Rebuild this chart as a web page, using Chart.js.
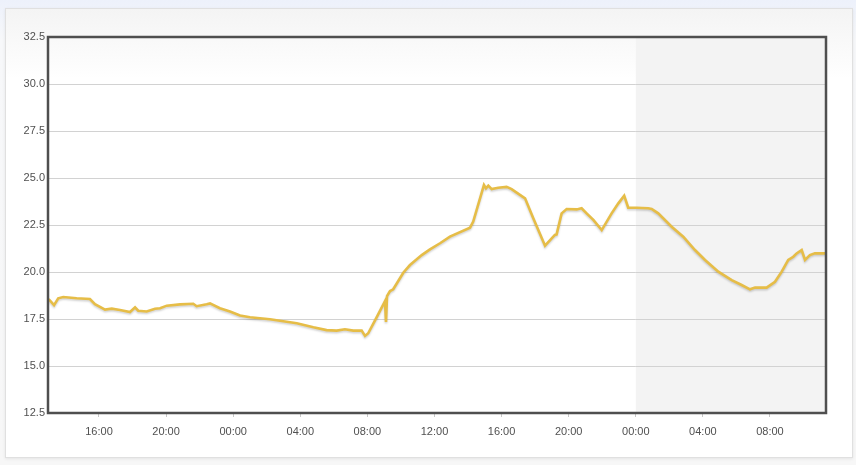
<!DOCTYPE html>
<html>
<head>
<meta charset="utf-8">
<script src="https://cdn.jsdelivr.net/npm/chart.js@4/dist/chart.umd.min.js"></script>
<style>
  html, body { margin: 0; padding: 0; }
  body { width: 856px; height: 465px; background: linear-gradient(#edf1fb, #f7f8fa 40px, #f7f7f7); position: relative; overflow: hidden; }
  #card { position: absolute; left: 5px; top: 8px; width: 846px; height: 448px; border: 1px solid #e0e0e0;
          background: linear-gradient(#f4f4f4, #ffffff 70px); box-shadow: 0 1px 3px rgba(0,0,0,0.08); }
  #wrap { position: absolute; left: 0; top: 0; width: 856px; height: 465px; }
</style>
</head>
<body>
<div id="card"></div>
<div id="wrap"><canvas id="myChart" width="856" height="465"></canvas></div>
<script>
// hours counted from 00:00 of the first day
const hours = [13.00, 13.32, 13.57, 13.87, 14.67, 15.46, 15.76, 16.36, 16.76, 17.25, 17.85, 18.15, 18.34, 18.84,
  19.34, 19.64, 20.04, 20.83, 21.62, 21.82, 22.42, 22.62, 23.21, 23.81, 24.41, 25.00, 26.19, 27.79, 28.78,
  29.57, 30.17, 30.66, 31.16, 31.66, 31.86, 32.05, 32.55, 33.05, 33.11, 33.17, 33.35, 33.54, 34.14, 34.54,
  35.24, 35.73, 36.33, 36.92, 38.12, 38.31, 38.95, 39.07, 39.21, 39.41, 39.80, 40.30, 40.60, 41.40, 41.89,
  42.59, 43.18, 43.28, 43.58, 43.88, 44.48, 44.77, 45.07, 45.47, 45.97, 46.56, 46.96, 47.31, 47.55, 48.05,
  48.74, 48.95, 49.34, 50.14, 50.83, 51.53, 52.13, 52.92, 53.72, 54.31, 54.81, 55.11, 55.80, 56.30, 56.70,
  57.09, 57.39, 57.59, 57.89, 58.09, 58.38, 58.68, 59.34]
const temps = [18.56, 18.24, 18.60, 18.67, 18.60, 18.56, 18.29, 18.00, 18.05, 17.98, 17.87, 18.12, 17.94, 17.90,
  18.05, 18.07, 18.21, 18.28, 18.31, 18.18, 18.28, 18.33, 18.07, 17.90, 17.69, 17.59, 17.49, 17.27, 17.06,
  16.91, 16.88, 16.95, 16.88, 16.88, 16.60, 16.74, 17.59, 18.45, 17.34, 18.72, 18.99, 19.08, 19.96, 20.37,
  20.90, 21.20, 21.53, 21.88, 22.36, 22.68, 24.63, 24.45, 24.59, 24.41, 24.48, 24.53, 24.41, 23.92, 22.86,
  21.40, 21.97, 22.00, 23.12, 23.35, 23.33, 23.39, 23.12, 22.77, 22.23, 23.12, 23.65, 24.06, 23.42, 23.42,
  23.39, 23.35, 23.12, 22.41, 21.88, 21.17, 20.64, 20.02, 19.57, 19.31, 19.08, 19.17, 19.17, 19.48, 20.02,
  20.64, 20.81, 20.99, 21.17, 20.64, 20.90, 20.99, 20.99]

const xTickHours = [16, 20, 24, 28, 32, 36, 40, 44, 48, 52, 56]
const xTickLabels = ["16:00", "20:00", "00:00", "04:00", "08:00", "12:00", "16:00", "20:00", "00:00", "04:00", "08:00"]
const xMin = 12.96
const xMax = 59.34
const shadeFrom = 48   // second midnight

const points = hours.map((h, i) => ({ x: h, y: temps[i] }))

// grey band after midnight + dark frame round the plot
const framePlugin = {
  id: "frame",
  beforeDatasetsDraw(chart) {
    const { ctx, chartArea, scales } = chart
    const x0 = scales.x.getPixelForValue(shadeFrom)
    ctx.save()
    ctx.fillStyle = "#f3f3f3"
    ctx.fillRect(x0, chartArea.top, chartArea.right - x0, chartArea.bottom - chartArea.top)
    // gridlines again over the band
    ctx.strokeStyle = "#d2d2d2"
    ctx.lineWidth = 1
    scales.y.ticks.forEach(t => {
      const y = Math.round(scales.y.getPixelForValue(t.value)) + 0.5
      ctx.beginPath()
      ctx.moveTo(x0, y)
      ctx.lineTo(chartArea.right, y)
      ctx.stroke()
    })
    ctx.restore()
  },
  beforeDatasetDraw(chart) {
    const ctx = chart.ctx
    ctx.save()
    ctx.shadowColor = "rgba(0,0,0,0.18)"
    ctx.shadowBlur = 2
    ctx.shadowOffsetY = 1.5
  },
  afterDatasetDraw(chart) {
    chart.ctx.restore()
  },
  afterDraw(chart) {
    const { ctx, chartArea } = chart
    ctx.save()
    ctx.strokeStyle = "#4f4f4f"
    ctx.lineWidth = 2.5
    ctx.strokeRect(chartArea.left, chartArea.top, chartArea.right - chartArea.left, chartArea.bottom - chartArea.top)
    ctx.restore()
  }
}

Chart.defaults.font.family = "'Liberation Sans', Arial, sans-serif"
Chart.defaults.font.size = 11
Chart.defaults.color = "#505050"

new Chart("myChart", {
  type: "line",
  data: {
    datasets: [{
      data: points,
      borderColor: "#e6bd47",
      backgroundColor: "#e6bd47",
      borderWidth: 2.6,
      pointRadius: 0,
      tension: 0,
      fill: false
    }]
  },
  options: {
    responsive: false,
    animation: false,
    events: [],
    layout: { padding: { left: 0, top: 37, right: 30, bottom: 22 } },
    plugins: { legend: { display: false }, tooltip: { enabled: false } },
    scales: {
      x: {
        type: "linear",
        min: xMin,
        max: xMax,
        afterBuildTicks: s => { s.ticks = xTickHours.map(v => ({ value: v })) },
        afterFit: s => { s.height = 30 },
        ticks: {
          autoSkip: false,
          maxRotation: 0,
          padding: 8,
          callback: v => xTickLabels[xTickHours.indexOf(v)]
        },
        grid: { drawOnChartArea: false, color: "#c8c8c8", tickLength: 4 },
        border: { display: false }
      },
      y: {
        min: 12.5,
        max: 32.5,
        afterFit: s => { s.width = 48 },
        ticks: { stepSize: 2.5, padding: 3, callback: v => v.toFixed(1) },
        grid: { color: "#d2d2d2", drawTicks: false },
        border: { display: false }
      }
    }
  },
  plugins: [framePlugin]
})
</script>
</body>
</html>
